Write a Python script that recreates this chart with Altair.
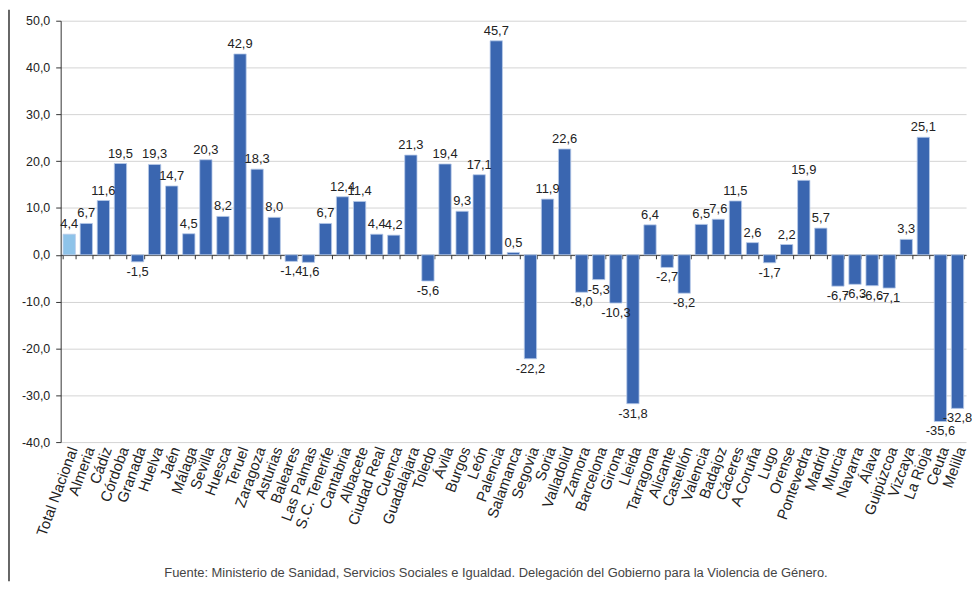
import altair as alt
import pandas as pd

categories = [
    "Total Nacional", "Almeria", "Cádiz", "Córdoba", "Granada", "Huelva", "Jaén",
    "Málaga", "Sevilla", "Huesca", "Teruel", "Zaragoza", "Asturias", "Baleares",
    "Las Palmas", "S.C. Tenerife", "Cantabria", "Albacete", "Ciudad Real", "Cuenca",
    "Guadalajara", "Toledo", "Ávila", "Burgos", "León", "Palencia", "Salamanca",
    "Segovia", "Soria", "Valladolid", "Zamora", "Barcelona", "Girona", "Lleida",
    "Tarragona", "Alicante", "Castellón", "Valencia", "Badajoz", "Cáceres",
    "A Coruña", "Lugo", "Orense", "Pontevedra", "Madrid", "Murcia", "Navarra",
    "Álava", "Guipúzcoa", "Vizcaya", "La Rioja", "Ceuta", "Melilla",
]
values = [
    4.4, 6.7, 11.6, 19.5, -1.5, 19.3, 14.7,
    4.5, 20.3, 8.2, 42.9, 18.3, 8.0, -1.4,
    -1.6, 6.7, 12.4, 11.4, 4.4, 4.2,
    21.3, -5.6, 19.4, 9.3, 17.1, 45.7, 0.5,
    -22.2, 11.9, 22.6, -8.0, -5.3, -10.3, -31.8,
    6.4, -2.7, -8.2, 6.5, 7.6, 11.5,
    2.6, -1.7, 2.2, 15.9, 5.7, -6.7, -6.3,
    -6.6, -7.1, 3.3, 25.1, -35.6, -32.8,
]
y_ticks = [-40, -30, -20, -10, 0, 10, 20, 30, 40, 50]
source_text = ("Fuente: Ministerio de Sanidad, Servicios Sociales e Igualdad. "
               "Delegación del Gobierno para la Violencia de Género.")

labels = [f"{v:.1f}".replace(".", ",") for v in values]
df = pd.DataFrame({"cat": categories, "v": values, "lab": labels})

W, H = 911, 424
FONT = "Liberation Sans"

x_scale = alt.Scale(domain=categories, paddingInner=0.28, paddingOuter=0.14)
y_scale = alt.Scale(domain=[-40, 50], nice=False)

label_axis = alt.Axis(
    title=None, labelAngle=290, labelAlign="right", labelBaseline="middle",
    labelFontSize=15, labelFont=FONT, labelColor="#222", domain=False,
    ticks=False, labelPadding=5, labelOffset=4, grid=False, labelOverlap=False,
)
zero_axis = alt.Axis(
    title=None, orient="bottom", offset=-(H * 40 / 90), labels=False,
    domain=True, domainColor="#333", domainWidth=1, ticks=True, tickSize=4,
    tickColor="#333", tickBand="extent", grid=False,
)
y_axis = alt.Axis(
    title=None, values=y_ticks,
    labelExpr="replace(replace(format(datum.value, '.1f'), '.', ','), '\u2212', '-')",
    labelFontSize=12.5, labelFont=FONT, labelColor="#222", labelPadding=6,
    domainColor="#333", tickColor="#333", tickSize=5,
    grid=True, gridColor="#d4d4d4", gridWidth=1,
)

base = alt.Chart(df)

bars = base.mark_bar(stroke="#b8cbea", strokeWidth=0.8).encode(
    x=alt.X("cat:N", sort=None, scale=x_scale, axis=label_axis),
    y=alt.Y("v:Q", scale=y_scale, axis=y_axis),
    color=alt.when("datum.cat == 'Total Nacional'")
    .then(alt.value("#8EC3E9"))
    .otherwise(alt.value("#3A66B0")),
)

zero_layer = base.mark_point(opacity=0).encode(
    x=alt.X("cat:N", sort=None, scale=x_scale, axis=zero_axis),
    y=alt.Y("v:Q", scale=y_scale),
)

pos_labels = base.transform_filter("datum.v >= 0").mark_text(
    baseline="bottom", dy=-3, fontSize=13, font=FONT, color="#222"
).encode(
    x=alt.X("cat:N", sort=None, scale=x_scale, axis=None),
    y=alt.Y("v:Q", scale=y_scale),
    text="lab:N",
)
neg_labels = base.transform_filter("datum.v < 0").mark_text(
    baseline="top", dy=4, fontSize=13, font=FONT, color="#222"
).encode(
    x=alt.X("cat:N", sort=None, scale=x_scale, axis=None),
    y=alt.Y("v:Q", scale=y_scale),
    text="lab:N",
)

source = alt.Chart(pd.DataFrame({"t": [source_text]})).mark_text(
    fontSize=13, font=FONT, color="#444", align="center", baseline="middle"
).encode(text="t:N", x=alt.value(438), y=alt.value(556))

border = alt.Chart(pd.DataFrame({"a": [0]})).mark_rule(
    color="#666", strokeWidth=2
).encode(x=alt.value(-52), y=alt.value(-11), y2=alt.value(564))

chart = (
    alt.layer(bars, zero_layer, pos_labels, neg_labels, source, border)
    .resolve_axis(x="independent")
    .properties(
        width=W, height=H,
        padding={"left": 53, "top": 11, "right": 6, "bottom": 140},
        autosize=alt.AutoSizeParams(type="none"),
    )
    .configure_view(stroke=None)
)

chart.save("out.html", embed_options={"renderer": "svg", "actions": False})
